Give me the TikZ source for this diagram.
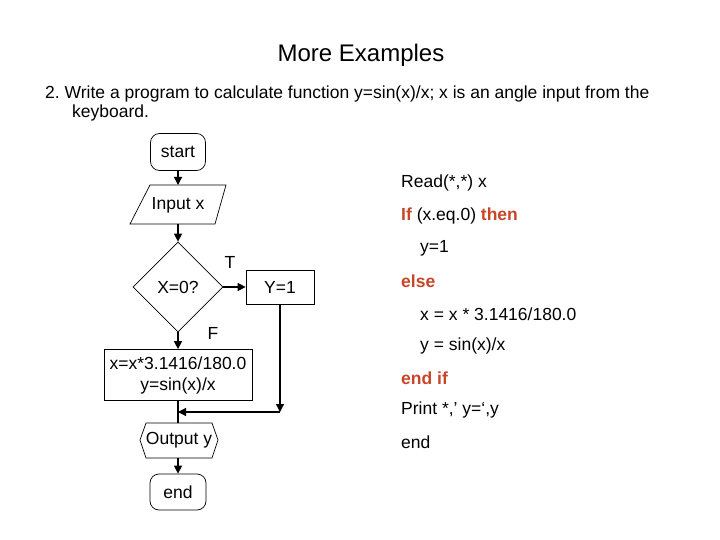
\documentclass[tikz,border=0pt]{standalone}
\usepackage{fontspec}
\setmainfont{Liberation Sans}
\usetikzlibrary{arrows.meta,shapes.geometric,shapes.misc}
\definecolor{kw}{RGB}{200,70,40}
\begin{document}
\begin{tikzpicture}[x=1pt,y=-1pt,
  txt/.style={font=\fontsize{17.5}{21}\selectfont, inner sep=0pt},
  code/.style={txt, anchor=west},
  arr/.style={-{Triangle[length=8pt,width=8pt]}, line width=1.2pt},
  ln/.style={line width=1.2pt},
  box/.style={draw, line width=0.7pt, txt, align=center}]
\useasboundingbox (0,0) rectangle (720,540);
\node[font=\fontsize{24}{28}\selectfont] (title) at (361,55) {More Examples};
\node[txt, anchor=west] (l1) at (45,94) {2.~Write a program to calculate function y=sin(x)/x; x is an angle input from the};
\node[txt, anchor=west] (l2) at (72,113) {keyboard.};

\node[box, rounded corners=9pt, minimum width=55pt, minimum height=37pt] (start) at (178,152) {start};
\draw[line width=0.7pt] (150,185) -- (226,185) -- (215,224) -- (130,224) -- cycle;
\node[txt] (inp) at (178,205) {Input x};
\node[box, diamond, aspect=1, minimum width=90pt, minimum height=90pt, inner sep=0pt] (dec) at (178,287) {X=0?};
\node[box, minimum width=68pt, minimum height=34pt] (y1) at (280,287) {Y=1};
\node[box, minimum width=148pt, minimum height=51pt] (calc) at (178,375) {x=x*3.1416/180.0\\y=sin(x)/x};
\draw[line width=0.7pt] (140,440) -- (146,423) -- (212,423) -- (218,440) -- (212,458) -- (146,458) -- cycle;
\node[txt] (out) at (179,440) {Output y};
\node[box, rounded corners=9pt, minimum width=56pt, minimum height=36pt] (end) at (178,492) {end};
\node[txt] (T) at (230,262) {T};
\node[txt] (F) at (213,333) {F};
\coordinate (inT) at (178,185);
\coordinate (inB) at (178,224);
\coordinate (outT) at (178,423);
\coordinate (outB) at (178,458);
\coordinate (j1) at (280,412);
\coordinate (j2) at (178,412);

\draw[arr] (start) -- (inT);
\draw[arr] (inB) -- (dec.north);
\draw[arr] (dec.east) -- (y1.west);
\draw[arr] (dec.south) -- (calc.north);
\draw[ln] (calc.south) -- (outT);
\draw[arr] (y1.south) -- (j1);
\draw[arr] (j1) -- (j2);
\draw[arr] (outB) -- (end.north);

\node[code] (c1) at (401,183) {Read(*,*) x};
\node[code] (c2) at (401,216) {\textcolor{kw}{\bfseries If} (x.eq.0) \textcolor{kw}{\bfseries then}};
\node[code] (c3) at (420,248) {y=1};
\node[code, text=kw, font=\bfseries\fontsize{17.5}{21}\selectfont] (c4) at (401,281) {else};
\node[code] (c5) at (420,314) {x = x * 3.1416/180.0};
\node[code] (c6) at (420,346) {y = sin(x)/x};
\node[code, text=kw, font=\bfseries\fontsize{17.5}{21}\selectfont] (c7) at (401,378) {end if};
\node[code] (c8) at (401,410) {Print *,’ y=‘,y};
\node[code] (c9) at (401,442) {end};
\end{tikzpicture}
\end{document}
